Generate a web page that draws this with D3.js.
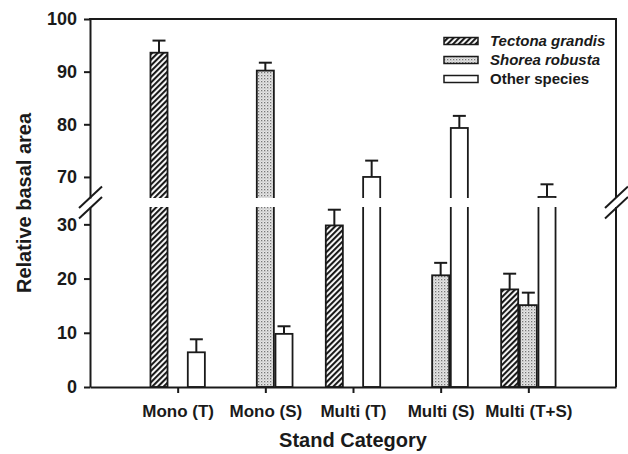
<!DOCTYPE html>
<html>
<head>
<meta charset="utf-8">
<script src="https://cdn.jsdelivr.net/npm/d3@7"></script>
<style>
  body { margin: 0; background: #fff; }
  text { font-family: "Liberation Sans", Arial, sans-serif; font-weight: bold; fill: #1a1a1a; }
</style>
</head>
<body>
<svg id="chart" width="628" height="454"></svg>
<script>
// DATA
const categories = ['Mono (T)', 'Mono (S)', 'Multi (T)', 'Multi (S)', 'Multi (T+S)'];
const seriesNames = ['Tectona grandis', 'Shorea robusta', 'Other species'];
const tectona = [93.6, null, 29.8, null, 18.0];
const tectonaErr = [2.3, null, 2.9, null, 2.9];
const shorea = [null, 90.2, null, 20.6, 15.1];
const shoreaErr = [null, 1.5, null, 2.3, 2.3];
const other = [6.4, 9.8, 70.0, 79.3, 66.2];
const otherErr = [2.4, 1.4, 3.1, 2.3, 2.4];
const upperTicks = [70, 80, 90, 100];
const lowerTicks = [0, 10, 20, 30];

const svg = d3.select('#chart');
const plotLeft = 90, plotRight = 616, plotTop = 19, plotBottom = 387;
const gapTop = 198, gapBottom = 207;

//SCALES
const x = d3.scaleLinear().domain([0, categories.length + 1]).range([plotLeft, plotRight]);
const xSeries = d3.scaleBand().domain([0, 1, 2]).range([-28, 28]);
const yUp = d3.scaleLinear().domain([66, 100]).range([gapTop, plotTop]);
const yLow = d3.scaleLinear().domain([0, 33.2]).range([plotBottom, gapBottom]);
const y = (v) => (v > 50 ? yUp(v) : yLow(v));

//PATTERNS
const defs = svg.append('defs');
const hatch = defs.append('pattern')
  .attr('id', 'hatch')
  .attr('patternUnits', 'userSpaceOnUse')
  .attr('width', 4).attr('height', 4)
  .attr('patternTransform', 'rotate(45)');
hatch.append('rect').attr('width', 4).attr('height', 4).attr('fill', '#fff');
hatch.append('line').attr('x1', 1).attr('y1', 0).attr('x2', 1).attr('y2', 4)
  .attr('stroke', '#1a1a1a').attr('stroke-width', 2.2);

const dots = defs.append('pattern')
  .attr('id', 'dots')
  .attr('patternUnits', 'userSpaceOnUse')
  .attr('width', 3).attr('height', 3);
dots.append('rect').attr('width', 3).attr('height', 3).attr('fill', '#e6e6e6');
dots.append('rect').attr('width', 1.3).attr('height', 1.3).attr('fill', '#777');
dots.append('rect').attr('x', 1.5).attr('y', 1.5).attr('width', 1).attr('height', 1).attr('fill', '#aaa');

const fills = ['url(#hatch)', 'url(#dots)', '#fff'];

//BARS
const rows = [];
[[tectona, tectonaErr], [shorea, shoreaErr], [other, otherErr]].forEach(([vals, errs], s) => {
  vals.forEach((v, i) => {
    if (v != null) rows.push({ s, i, v, e: errs[i] });
  });
});

const bw = xSeries.bandwidth() - 1.6;
const cx = (d) => x(d.i + 1) + xSeries(d.s) + xSeries.bandwidth() / 2;

// error bars (upper whisker only)
svg.append('g').selectAll('g')
  .data(rows)
  .enter()
  .append('g')
  .each(function (d) {
    const g = d3.select(this);
    g.append('line')
      .attr('x1', cx(d)).attr('x2', cx(d))
      .attr('y1', y(d.v)).attr('y2', y(d.v + d.e))
      .attr('stroke', '#1a1a1a').attr('stroke-width', 2);
    g.append('line')
      .attr('x1', cx(d) - 6.5).attr('x2', cx(d) + 6.5)
      .attr('y1', y(d.v + d.e)).attr('y2', y(d.v + d.e))
      .attr('stroke', '#1a1a1a').attr('stroke-width', 2);
  });

svg.append('g').selectAll('rect')
  .data(rows)
  .enter()
  .append('rect')
  .attr('x', (d) => cx(d) - bw / 2)
  .attr('width', bw)
  .attr('y', (d) => y(d.v))
  .attr('height', (d) => y(0) - y(d.v))
  .attr('fill', (d) => fills[d.s])
  .attr('stroke', '#1a1a1a')
  .attr('stroke-width', 1.8);

// axis break band
svg.append('rect')
  .attr('x', plotLeft + 1).attr('width', plotRight - plotLeft - 2)
  .attr('y', gapTop).attr('height', gapBottom - gapTop)
  .attr('fill', '#fff');

//AXES
function styleAxis(g, size) {
  g.selectAll('.domain').attr('stroke', '#1a1a1a').attr('stroke-width', 2);
  g.selectAll('.tick line').attr('stroke', '#1a1a1a').attr('stroke-width', 2);
  g.selectAll('.tick text')
    .attr('font-size', size)
    .attr('font-family', '"Liberation Sans", Arial, sans-serif')
    .attr('font-weight', 'bold')
    .attr('fill', '#1a1a1a');
}

svg.append('g')
  .attr('transform', `translate(${plotLeft},0)`)
  .call(d3.axisLeft(yUp).tickValues(upperTicks).tickSize(6).tickSizeOuter(0).tickPadding(7))
  .call(styleAxis, 18);

svg.append('g')
  .attr('transform', `translate(${plotLeft},0)`)
  .call(d3.axisLeft(yLow).tickValues(lowerTicks).tickSize(6).tickSizeOuter(0).tickPadding(7))
  .call(styleAxis, 18);

svg.append('g')
  .attr('transform', `translate(0,${plotBottom})`)
  .call(d3.axisBottom(x).tickValues(d3.range(1, categories.length + 1))
    .tickFormat((i) => categories[i - 1]).tickSize(6).tickSizeOuter(0).tickPadding(12))
  .call(styleAxis, 17);

// frame top and right
const frame = svg.append('g').attr('stroke', '#1a1a1a').attr('stroke-width', 2).attr('fill', 'none');
frame.append('line').attr('x1', plotLeft - 1).attr('x2', plotRight + 1).attr('y1', plotTop).attr('y2', plotTop);
frame.append('line').attr('x1', plotRight).attr('x2', plotRight).attr('y1', plotTop).attr('y2', gapTop);
frame.append('line').attr('x1', plotRight).attr('x2', plotRight).attr('y1', gapBottom).attr('y2', plotBottom);

// break marks
[plotLeft, plotRight].forEach((bx) => {
  [gapTop - 0.5, gapBottom + 1].forEach((by) => {
    frame.append('line')
      .attr('x1', bx - 11).attr('y1', by + 10.5)
      .attr('x2', bx + 12).attr('y2', by - 11);
  });
});

//TITLES
svg.append('text')
  .attr('transform', `translate(31,${(plotTop + plotBottom) / 2}) rotate(-90)`)
  .attr('text-anchor', 'middle')
  .attr('font-size', 20)
  .text('Relative basal area');

svg.append('text')
  .attr('x', (plotLeft + plotRight) / 2)
  .attr('y', 447)
  .attr('text-anchor', 'middle')
  .attr('font-size', 20)
  .text('Stand Category');

//LEGEND
const legend = svg.append('g').attr('transform', 'translate(444,46)');
seriesNames.forEach((name, s) => {
  const row = legend.append('g').attr('transform', `translate(0,${s * 19})`);
  row.append('rect')
    .attr('x', 0).attr('y', -8.5)
    .attr('width', 34).attr('height', 7)
    .attr('fill', fills[s])
    .attr('stroke', '#1a1a1a')
    .attr('stroke-width', 1.5);
  row.append('text')
    .attr('x', 46)
    .attr('font-size', 15)
    .attr('font-style', s < 2 ? 'italic' : 'normal')
    .text(name);
});
</script>
</body>
</html>
